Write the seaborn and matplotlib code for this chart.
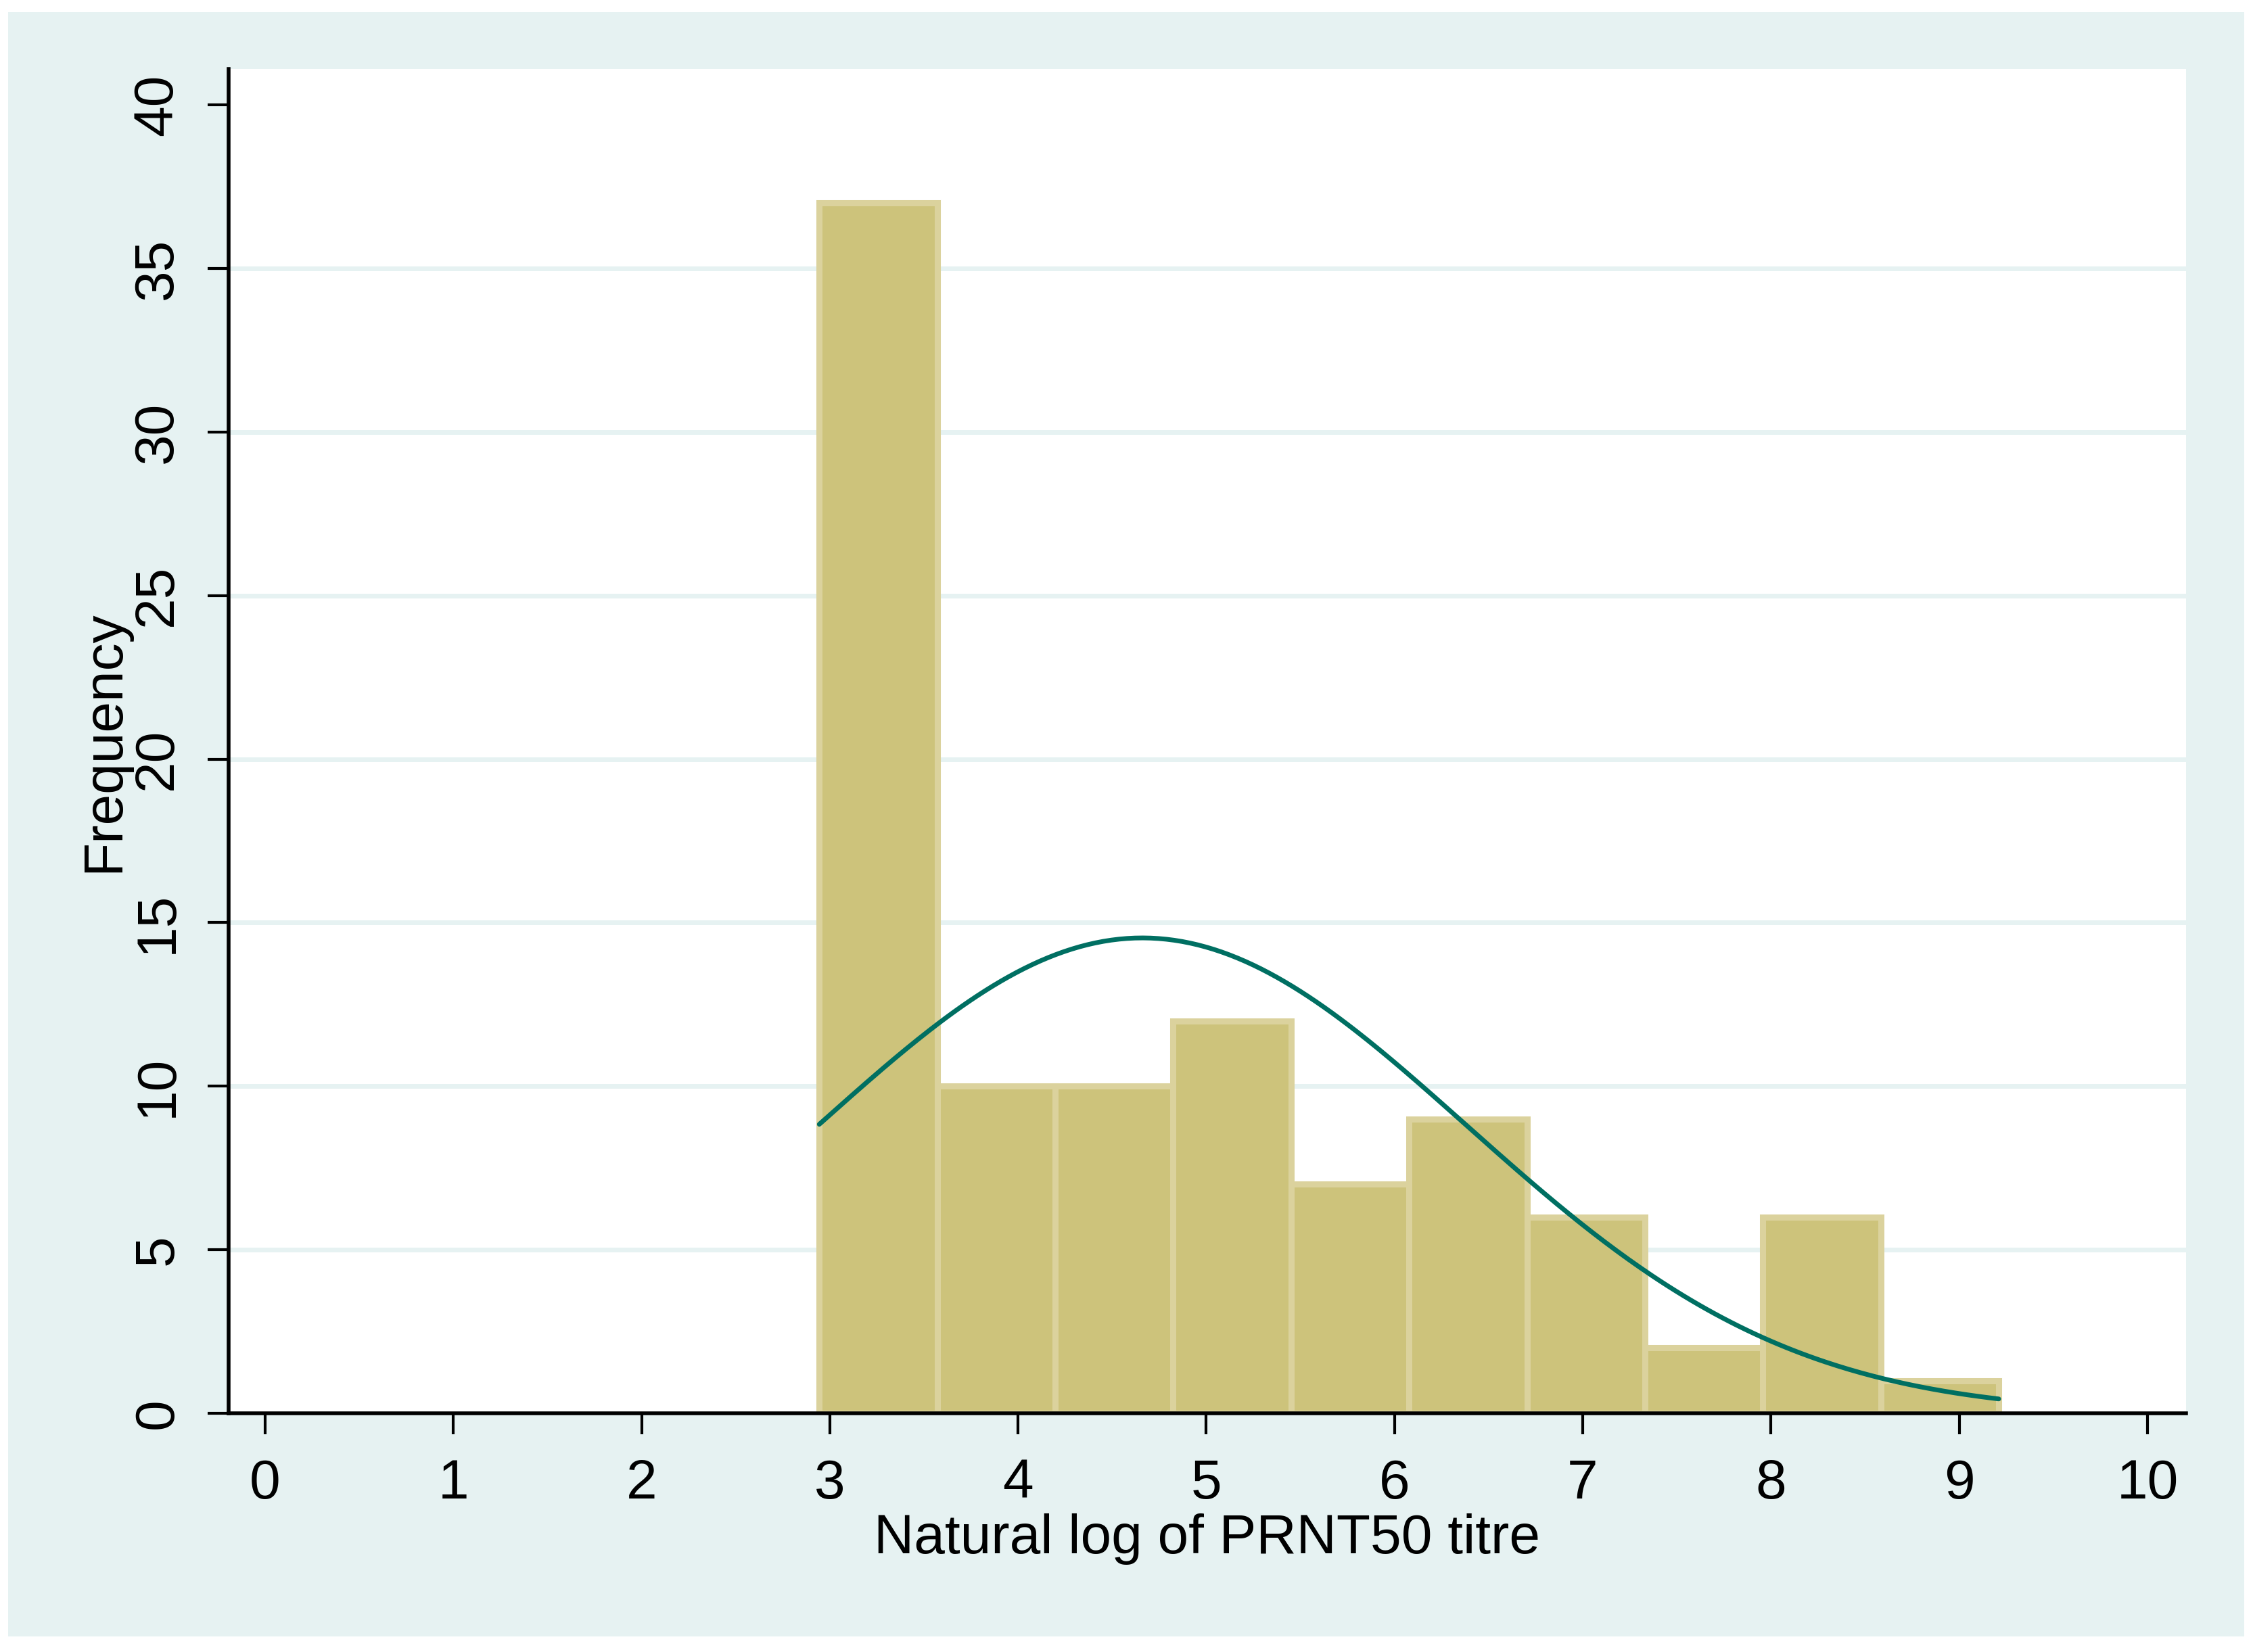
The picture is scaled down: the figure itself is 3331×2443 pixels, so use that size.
import numpy as np
import pandas as pd
import seaborn as sns
import matplotlib.pyplot as plt
from matplotlib.patches import Rectangle

# histogram of ln(PRNT50 titre), Stata style
ln_min = 2.944
ln_max = 9.210
counts = [37, 10, 10, 12, 7, 9, 6, 2, 6, 1]
curve_mean = 4.66
curve_sd = 1.72
x_ticks = list(range(0, 11))
y_ticks = list(range(0, 45, 5))

edges = np.linspace(ln_min, ln_max, len(counts) + 1)
mids = (edges[:-1] + edges[1:]) / 2
width = edges[1] - edges[0]
df = pd.DataFrame({"lnprnt": mids, "n": counts})

xs = np.linspace(ln_min, ln_max, 300)
n_total = sum(counts)
ys = n_total * width / (curve_sd * np.sqrt(2 * np.pi)) * np.exp(-0.5 * ((xs - curve_mean) / curve_sd) ** 2)
curve = pd.DataFrame({"x": xs, "y": ys})

sns.set_style("white")
plt.rcParams['font.family'] = ['Liberation Sans', 'DejaVu Sans']
plt.rcParams['text.color'] = 'black'
plt.rcParams['axes.labelcolor'] = 'black'
plt.rcParams['xtick.color'] = 'black'
plt.rcParams['ytick.color'] = 'black'

band = "#E6F2F2"
W, H = 3331, 2443
fig = plt.figure(figsize=(W / 100, H / 100), dpi=100, facecolor="white")
fig.patches.append(Rectangle((12 / W, 1 - 2420 / H), (3318 - 12) / W, (2420 - 18) / H,
                             transform=fig.transFigure, facecolor=band, edgecolor="none", zorder=-10))

ax = fig.add_axes([338 / W, 1 - 2090 / H, (3232 - 338) / W, (2090 - 102) / H])
ax.set_facecolor("white")

sns.histplot(data=df, x="lnprnt", weights="n", bins=edges.tolist(), ax=ax,
             color="#CDC37B", edgecolor="#DBD29D", linewidth=6.5, alpha=1, zorder=2)
sns.lineplot(data=curve, x="x", y="y", ax=ax, color="#006F62", linewidth=5, zorder=3)

ax.set_xlim(-0.194, 10.205)
ax.set_ylim(0, 41.1)
ax.set_xticks(x_ticks)
ax.set_yticks(y_ticks)
ax.set_xlabel("Natural log of PRNT50 titre", fontsize=59, labelpad=4, color="black")
ax.set_ylabel("Frequency", fontsize=59, labelpad=2, color="black")

ax.tick_params(axis="both", which="major", labelsize=59, length=22, width=3,
               color="black", labelcolor="black", pad=26, direction="out", left=True, bottom=True)
ax.tick_params(axis="y", labelrotation=90)
for lab in ax.get_yticklabels():
    lab.set_va("center")

ax.set_axisbelow(True)
ax.grid(axis="y", color=band, linewidth=5)
ax.grid(axis="x", visible=False)
gl = ax.get_ygridlines()
gl[0].set_visible(False)
gl[-1].set_visible(False)

for side in ["top", "right"]:
    ax.spines[side].set_visible(False)
for side in ["left", "bottom"]:
    ax.spines[side].set_color("black")
    ax.spines[side].set_linewidth(4)

fig.savefig("out.png", dpi=100, facecolor="white")
